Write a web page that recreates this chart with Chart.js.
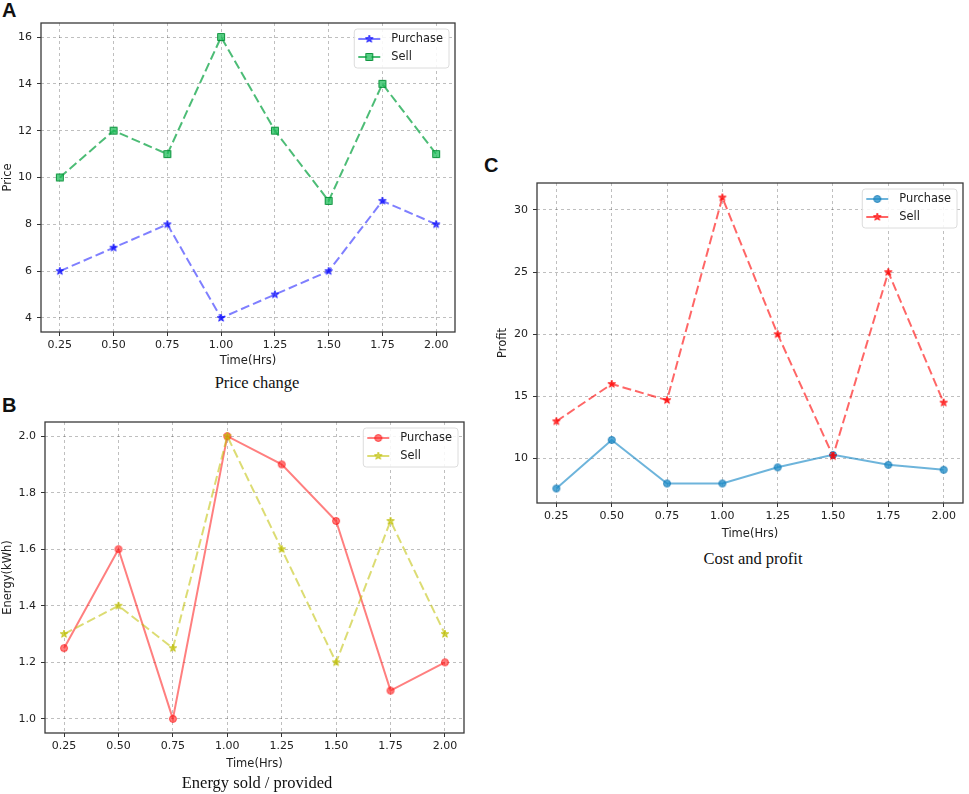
<!DOCTYPE html>
<html>
<head>
<meta charset="utf-8">
<script src="https://cdn.jsdelivr.net/npm/chart.js@4.4.1/dist/chart.umd.min.js"></script>
<style>
  body { margin: 0; background: #fff; }
  #page { position: relative; width: 969px; height: 794px; overflow: hidden; background: #fff; }
  #page canvas { position: absolute; }
  .tag { position: absolute; font: bold 20px "Liberation Sans", Arial, sans-serif; line-height: 1; color: #111; }
  .cap { position: absolute; width: 300px; text-align: center; white-space: nowrap; line-height: 1;
         font-family: "Liberation Serif", "Times New Roman", serif; color: #111; }
</style>
</head>
<body>
<div id="page">
  <div class="tag" style="left:2px; top:0px;">A</div>
  <canvas id="priceChart" width="470" height="372" style="left:0px; top:0px;"></canvas>
  <div class="cap" style="left:107px; top:375px; font-size:16.5px;">Price change</div>

  <div class="tag" style="left:2px; top:395px;">B</div>
  <canvas id="energyChart" width="480" height="385" style="left:0px; top:390px;"></canvas>
  <div class="cap" style="left:107px; top:775px; font-size:16.5px;">Energy sold / provided</div>

  <div class="tag" style="left:484px; top:155px;">C</div>
  <canvas id="profitChart" width="489" height="395" style="left:480px; top:150px;"></canvas>
  <div class="cap" style="left:603px; top:551px; font-size:16.5px;">Cost and profit</div>
</div>

<script>
// time axis shared by the three panels
const times = [0.25, 0.50, 0.75, 1.00, 1.25, 1.50, 1.75, 2.00];
const timeTickLabels = ['0.25', '0.50', '0.75', '1.00', '1.25', '1.50', '1.75', '2.00'];

// A: price change
const pricePurchase = [6, 7, 8, 4, 5, 6, 9, 8];
const priceSell = [10, 12, 11, 16, 12, 9, 14, 11];
const priceTicks = [4, 6, 8, 10, 12, 14, 16];
const priceTickLabels = ['4', '6', '8', '10', '12', '14', '16'];

// B: energy sold / provided
const energyPurchase = [1.25, 1.6, 1.0, 2.0, 1.9, 1.7, 1.1, 1.2];
const energySell = [1.3, 1.4, 1.25, 2.0, 1.6, 1.2, 1.7, 1.3];
const energyTicks = [1.0, 1.2, 1.4, 1.6, 1.8, 2.0];
const energyTickLabels = ['1.0', '1.2', '1.4', '1.6', '1.8', '2.0'];

// C: cost and profit
const profitPurchase = [7.6, 11.5, 8.0, 8.0, 9.3, 10.3, 9.5, 9.1];
const profitSell = [13, 16, 14.7, 31, 20, 10.2, 25, 14.5];
const profitTicks = [10, 15, 20, 25, 30];
const profitTickLabels = ['10', '15', '20', '25', '30'];

const FONT = '"DejaVu Sans", Verdana, sans-serif';

// matplotlib-like 5% margins around the data
function paddedRange(...series) {
    const all = [].concat(...series);
    const lo = Math.min(...all), hi = Math.max(...all);
    const m = (hi - lo) * 0.05;
    return { min: lo - m, max: hi + m };
}

// marker images (filled star / square / circle like matplotlib)
function makeMarker(shape, size, fill, stroke) {
    const c = document.createElement('canvas');
    c.width = size + 2;
    c.height = size + 2;
    const g = c.getContext('2d');
    const cx = c.width / 2, cy = c.height / 2, r = size / 2;
    g.beginPath();
    if (shape === 'star') {
        for (let i = 0; i < 10; i++) {
            const rad = i % 2 === 0 ? r : r * 0.42;
            const a = -Math.PI / 2 + i * Math.PI / 5;
            const px = cx + rad * Math.cos(a), py = cy + rad * Math.sin(a);
            if (i === 0) g.moveTo(px, py); else g.lineTo(px, py);
        }
        g.closePath();
    } else if (shape === 'square') {
        g.rect(cx - r + 0.5, cy - r + 0.5, size - 1, size - 1);
    } else {
        g.arc(cx, cy, r - 0.5, 0, Math.PI * 2);
    }
    g.fillStyle = fill;
    g.fill();
    g.lineWidth = 1;
    g.strokeStyle = stroke;
    g.stroke();
    return c;
}

function toPoints(values) {
    return values.map((v, i) => ({ x: times[i], y: v }));
}

// axes frame on all four sides
const framePlugin = {
    id: 'frame',
    beforeDatasetsDraw(chart) {
        const { ctx, chartArea: a } = chart;
        ctx.save();
        ctx.strokeStyle = '#3a3a3a';
        ctx.lineWidth = 1.3;
        ctx.strokeRect(a.left, a.top, a.right - a.left, a.bottom - a.top);
        ctx.restore();
    }
};

// legend box inside the plot, upper right
const insideLegend = {
    id: 'insideLegend',
    afterDraw(chart) {
        const { ctx, chartArea } = chart;
        const sets = chart.data.datasets;
        ctx.save();
        ctx.font = '11.4px ' + FONT;
        const textW = Math.max(...sets.map(d => ctx.measureText(d.label).width));
        const rowH = 18;
        const w = 37 + textW + 6;
        const h = sets.length * rowH + 3;
        const x = chartArea.right - w - 6;
        const y = chartArea.top + 6;
        ctx.beginPath();
        ctx.roundRect(x, y, w, h, 3);
        ctx.fillStyle = 'rgba(255,255,255,0.85)';
        ctx.fill();
        ctx.strokeStyle = '#dcdcdc';
        ctx.lineWidth = 1;
        ctx.stroke();
        sets.forEach((d, i) => {
            const cy = y + 10 + i * rowH;
            ctx.beginPath();
            ctx.setLineDash(d.borderDash || []);
            ctx.strokeStyle = d.borderColor;
            ctx.lineWidth = d.borderWidth;
            ctx.moveTo(x + 4, cy);
            ctx.lineTo(x + 26, cy);
            ctx.stroke();
            ctx.setLineDash([]);
            const img = d.pointStyle;
            ctx.drawImage(img, x + 15 - img.width / 2, cy - img.height / 2);
            ctx.fillStyle = '#222';
            ctx.textBaseline = 'middle';
            ctx.fillText(d.label, x + 37, cy + 0.5);
        });
        ctx.restore();
    }
};

function buildChart(id, cfg) {
    const xr = paddedRange(times);
    const yr = paddedRange(...cfg.series);
    new Chart(document.getElementById(id), {
        type: 'line',
        data: { datasets: cfg.datasets },
        options: {
            responsive: false,
            animation: false,
            layout: { padding: cfg.padding },
            plugins: { legend: { display: false }, tooltip: { enabled: false } },
            elements: { line: { tension: 0 } },
            scales: {
                x: {
                    type: 'linear',
                    min: xr.min,
                    max: xr.max,
                    afterBuildTicks: s => { s.ticks = times.map(v => ({ value: v })); },
                    afterFit: s => { s.height = cfg.xHeight; },
                    ticks: {
                        callback: (v, i) => timeTickLabels[i],
                        font: { family: FONT, size: 11 },
                        color: '#222',
                        padding: 3,
                        maxRotation: 0
                    },
                    grid: {
                        color: 'rgba(0,0,0,0.25)',
                        tickLength: 4,
                        tickColor: '#333',
                        tickBorderDash: []
                    },
                    border: { display: false, dash: [3, 3] },
                    title: {
                        display: true,
                        text: 'Time(Hrs)',
                        font: { family: FONT, size: 11.5 },
                        color: '#222',
                        padding: { top: 0, bottom: 4 }
                    }
                },
                y: {
                    min: yr.min,
                    max: yr.max,
                    afterBuildTicks: s => { s.ticks = cfg.yTicks.map(v => ({ value: v })); },
                    afterFit: s => { s.width = cfg.yWidth; },
                    ticks: {
                        callback: (v, i) => cfg.yTickLabels[i],
                        font: { family: FONT, size: 11 },
                        color: '#222',
                        padding: 5
                    },
                    grid: {
                        color: 'rgba(0,0,0,0.25)',
                        tickLength: 4,
                        tickColor: '#333',
                        tickBorderDash: []
                    },
                    border: { display: false, dash: [3, 3] },
                    title: {
                        display: true,
                        text: cfg.yTitle,
                        font: { family: FONT, size: 11.5 },
                        color: '#222',
                        padding: { top: cfg.yTitlePad, bottom: 0 }
                    }
                }
            }
        },
        plugins: [framePlugin, insideLegend]
    });
}

// A
buildChart('priceChart', {
    series: [pricePurchase, priceSell],
    yTicks: priceTicks,
    yTickLabels: priceTickLabels,
    yTitle: 'Price',
    yTitlePad: 1,
    yWidth: 41,
    xHeight: 40,
    padding: { top: 23, right: 15, left: 0, bottom: 0 },
    datasets: [{
        label: 'Purchase',
        data: toPoints(pricePurchase),
        borderColor: 'rgba(0,0,255,0.5)',
        borderWidth: 2,
        borderDash: [9, 4],
        pointStyle: makeMarker('star', 8, 'rgba(0,0,255,0.7)', 'rgba(0,0,255,0.7)'),
        order: 2
    }, {
        label: 'Sell',
        data: toPoints(priceSell),
        borderColor: 'rgba(0,160,60,0.7)',
        borderWidth: 2,
        borderDash: [9, 4],
        pointStyle: makeMarker('square', 8, 'rgba(30,190,90,0.75)', 'rgba(0,140,50,0.9)'),
        order: 1
    }]
});

// B
buildChart('energyChart', {
    series: [energyPurchase, energySell],
    yTicks: energyTicks,
    yTickLabels: energyTickLabels,
    yTitle: 'Energy(kWh)',
    yTitlePad: 1,
    yWidth: 45,
    xHeight: 42,
    padding: { top: 32, right: 16, left: 0, bottom: 0 },
    datasets: [{
        label: 'Purchase',
        data: toPoints(energyPurchase),
        borderColor: 'rgba(255,0,0,0.5)',
        borderWidth: 2,
        pointStyle: makeMarker('circle', 8, 'rgba(255,40,40,0.6)', 'rgba(255,0,0,0.6)'),
        order: 2
    }, {
        label: 'Sell',
        data: toPoints(energySell),
        borderColor: 'rgba(191,191,0,0.55)',
        borderWidth: 2,
        borderDash: [9, 4],
        pointStyle: makeMarker('star', 8, 'rgba(191,191,0,0.7)', 'rgba(191,191,0,0.7)'),
        order: 1
    }]
});

// C
buildChart('profitChart', {
    series: [profitPurchase, profitSell],
    yTicks: profitTicks,
    yTickLabels: profitTickLabels,
    yTitle: 'Profit',
    yTitlePad: 16,
    yWidth: 57,
    xHeight: 42,
    padding: { top: 33, right: 4, left: 0, bottom: 0 },
    datasets: [{
        label: 'Purchase',
        data: toPoints(profitPurchase),
        borderColor: 'rgba(30,140,200,0.65)',
        borderWidth: 2,
        pointStyle: makeMarker('circle', 8, 'rgba(30,140,200,0.75)', 'rgba(20,120,180,0.8)'),
        order: 2
    }, {
        label: 'Sell',
        data: toPoints(profitSell),
        borderColor: 'rgba(255,0,0,0.6)',
        borderWidth: 2,
        borderDash: [9, 4],
        pointStyle: makeMarker('star', 8, 'rgba(255,0,0,0.75)', 'rgba(255,0,0,0.75)'),
        order: 1
    }]
});
</script>
</body>
</html>
